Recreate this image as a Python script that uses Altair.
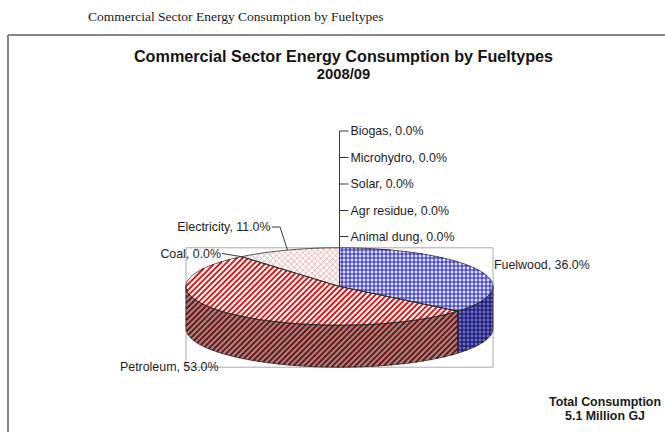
import numpy as np
import pandas as pd
import altair as alt

# Fuel shares (%), in the order the slices run clockwise from 12 o'clock
fuels = ["Fuelwood", "Petroleum", "Coal", "Electricity",
         "Animal dung", "Agr residue", "Solar", "Microhydro", "Biogas"]
shares = [36.0, 53.0, 0.0, 11.0, 0.0, 0.0, 0.0, 0.0, 0.0]

page_caption = "Commercial Sector Energy Consumption by Fueltypes"
chart_title = ["Commercial Sector Energy Consumption by Fueltypes", "2008/09"]
total_note = ["Total Consumption", "5.1 Million GJ"]

W, H = 665, 432

# geometry of the tilted (3-D) pie, in page pixels
CX, CY = 339.5, 286.5
RX, RY = 153.5, 38.7
DEPTH = 42.0

# fill and hatch families per face: (direction, spacing, line width, colour)
HORIZ, VERT = (1.0, 0.0), (0.0, 1.0)
UP, DOWN = (1.0, -1.0), (1.0, 1.0)
face_style = {
    ("Fuelwood", "top"): ("#e4e4ff", [(HORIZ, 4.0, 1.1, "#2020c4"), (VERT, 4.0, 1.1, "#2020c4")]),
    ("Fuelwood", "side"): ("#7070b8", [(HORIZ, 4.0, 1.1, "#0c0c70"), (VERT, 4.0, 1.1, "#0c0c70")]),
    ("Petroleum", "top"): ("#ffffff", [(UP, 4.0, 2.0, "#dc1a1a")]),
    ("Petroleum", "side"): ("#9a8c88", [(UP, 4.0, 2.0, "#7c1212")]),
    ("Electricity", "top"): ("#ffffff", [(UP, 4.2, 0.9, "#f2a6a6"), (DOWN, 4.2, 0.9, "#f2a6a6")]),
}


def ell(theta, dy=0.0):
    t = np.radians(theta)
    return (CX + RX * np.sin(t), CY - RY * np.cos(t) + dy)


def arc(t1, t2, dy=0.0):
    n = max(2, int(abs(t2 - t1)) + 1)
    return [ell(t, dy) for t in np.linspace(t1, t2, n)]


ends = np.cumsum(shares) * 3.6
starts = ends - np.array(shares) * 3.6
mids = (starts + ends) / 2

# polygons for the visible faces: front side walls, then top sectors
faces = []
for fuel, s, e in zip(fuels, starts, ends):
    if e - s <= 0:
        continue
    a, b = max(s, 90.0), min(e, 270.0)
    if b > a:
        side = arc(a, b) + arc(b, a, DEPTH)
        side.append(side[0])
        faces.append((fuel, "side", side))
for fuel, s, e in zip(fuels, starts, ends):
    if e - s <= 0:
        continue
    top = [(CX, CY)] + arc(s, e) + [(CX, CY)]
    faces.append((fuel, "top", top))


def hatch(poly, direction, spacing):
    """Clip a family of parallel lines to a polygon (even-odd rule)."""
    d = np.array(direction, dtype=float)
    d /= np.linalg.norm(d)
    nrm = np.array([-d[1], d[0]])
    P = np.array(poly[:-1], dtype=float)
    u, v = P @ nrm, P @ d
    segs = []
    c = np.floor(u.min() / spacing) * spacing + spacing / 2
    while c < u.max():
        hits = []
        for i in range(len(P)):
            j = (i + 1) % len(P)
            if (u[i] - c) * (u[j] - c) < 0:
                t = (c - u[i]) / (u[j] - u[i])
                hits.append(v[i] + t * (v[j] - v[i]))
        hits.sort()
        for h1, h2 in zip(hits[0::2], hits[1::2]):
            p1, p2 = c * nrm + h1 * d, c * nrm + h2 * d
            segs.append((p1[0], p1[1], p2[0], p2[1]))
        c += spacing
    return segs


XS = alt.Scale(domain=[0, W], nice=False, zero=False)
YS = alt.Scale(domain=[0, H], nice=False, zero=False, reverse=True)


def xy(xf="x", yf="y"):
    return dict(x=alt.X(f"{xf}:Q", scale=XS, axis=None),
                y=alt.Y(f"{yf}:Q", scale=YS, axis=None))


layers = []

# page frame
frame = pd.DataFrame({"x": [8, 8], "y": [35, 35], "x2": [W, 8], "y2": [35, H]})
layers.append(alt.Chart(frame).mark_rule(color="#858585", strokeWidth=2).encode(
    **xy(), x2="x2:Q", y2="y2:Q"))

# plot-area box around the pie
box = pd.DataFrame({"x": [CX - RX], "y": [CY - RY], "x2": [CX + RX], "y2": [CY + RY + DEPTH]})
layers.append(alt.Chart(box).mark_rect(fill="transparent", stroke="#a8a8a8", strokeWidth=1).encode(
    **xy(), x2="x2:Q", y2="y2:Q"))

# filled faces, their hatching and outlines
outline_rows = []
hatch_rows = []
for k, (fuel, kind, pts) in enumerate(faces):
    fill, fams = face_style[(fuel, kind)]
    df = pd.DataFrame({"x": [p[0] for p in pts], "y": [p[1] for p in pts],
                       "i": range(len(pts))})
    layers.append(alt.Chart(df).mark_line(fill=fill, stroke="transparent", strokeWidth=0).encode(
        **xy(), order="i:Q"))
    for direction, spacing, width, color in fams:
        for x1, y1, x2, y2 in hatch(pts, direction, spacing):
            hatch_rows.append({"x": x1, "y": y1, "x2": x2, "y2": y2, "c": color, "w": width})
    for i, p in enumerate(pts):
        outline_rows.append({"x": p[0], "y": p[1], "i": i, "face": k})

hatch_df = pd.DataFrame(hatch_rows)
layers.append(alt.Chart(hatch_df).mark_rule(strokeCap="butt").encode(
    **xy(), x2="x2:Q", y2="y2:Q",
    color=alt.Color("c:N", scale=None),
    size=alt.Size("w:Q", scale=None)))

outline_df = pd.DataFrame(outline_rows)
layers.append(alt.Chart(outline_df).mark_line(stroke="#262626", strokeWidth=0.8).encode(
    **xy(), order="i:Q", detail="face:N"))

# data labels and leader lines
share_of = dict(zip(fuels, shares))
mid_of = dict(zip(fuels, mids))
stack = ["Biogas", "Microhydro", "Solar", "Agr residue", "Animal dung"]
stack_y = [131, 157.5, 184, 210.5, 236.5]
top_pt = ell(360.0)

leader_rows = [{"x": top_pt[0], "y": stack_y[0], "x2": top_pt[0], "y2": top_pt[1]}]
for yy in stack_y:
    leader_rows.append({"x": top_pt[0], "y": yy, "x2": top_pt[0] + 9, "y2": yy})
ex, ey = ell(mid_of["Electricity"])
leader_rows.append({"x": 272, "y": 227, "x2": 280, "y2": 227})
leader_rows.append({"x": 280, "y": 227, "x2": ex, "y2": ey})
cx_, cy_ = ell(mid_of["Coal"])
leader_rows.append({"x": 222, "y": 253.5, "x2": cx_, "y2": cy_})
layers.append(alt.Chart(pd.DataFrame(leader_rows)).mark_rule(color="#3a3a3a", strokeWidth=1).encode(
    **xy(), x2="x2:Q", y2="y2:Q"))


def lab(f):
    return f"{f}, {share_of[f]:.1f}%"


left_labels = pd.DataFrame(
    [{"x": top_pt[0] + 11, "y": yy, "t": lab(f)} for f, yy in zip(stack, stack_y)]
    + [{"x": 494, "y": 265, "t": lab("Fuelwood")},
       {"x": 120, "y": 366.5, "t": lab("Petroleum")}])
right_labels = pd.DataFrame([
    {"x": 270.5, "y": 227, "t": lab("Electricity")},
    {"x": 221, "y": 253.5, "t": lab("Coal")},
])
lab_font = dict(font="Liberation Sans", fontSize=12.4, color="#1e1e1e", baseline="middle")
layers.append(alt.Chart(left_labels).mark_text(align="left", **lab_font).encode(**xy(), text="t:N"))
layers.append(alt.Chart(right_labels).mark_text(align="right", **lab_font).encode(**xy(), text="t:N"))

# captions, title and total note
cap = pd.DataFrame({"x": [88], "y": [17], "t": [page_caption]})
layers.append(alt.Chart(cap).mark_text(align="left", baseline="middle", font="Liberation Serif",
                                       fontSize=13.5, color="#1a1a1a").encode(**xy(), text="t:N"))
ttl1 = pd.DataFrame({"x": [343.5], "y": [57], "t": [chart_title[0]]})
layers.append(alt.Chart(ttl1).mark_text(align="center", baseline="middle", font="Liberation Sans",
                                        fontSize=16.2, fontWeight="bold", color="#141414").encode(**xy(), text="t:N"))
ttl2 = pd.DataFrame({"x": [343.5], "y": [74.5], "t": [chart_title[1]]})
layers.append(alt.Chart(ttl2).mark_text(align="center", baseline="middle", font="Liberation Sans",
                                        fontSize=14.8, fontWeight="bold", color="#141414").encode(**xy(), text="t:N"))
note = pd.DataFrame({"x": [605, 605], "y": [402, 416], "t": total_note})
layers.append(alt.Chart(note).mark_text(align="center", baseline="middle", font="Liberation Sans",
                                        fontSize=12.4, fontWeight="bold", color="#1a1a1a").encode(**xy(), text="t:N"))

chart = alt.layer(*layers).properties(
    width=W, height=H, padding=0, autosize=alt.AutoSizeParams(type="none"),
    background="white",
).configure_view(stroke=None)

chart.save("out.html", embed_options={"renderer": "svg", "actions": False})
